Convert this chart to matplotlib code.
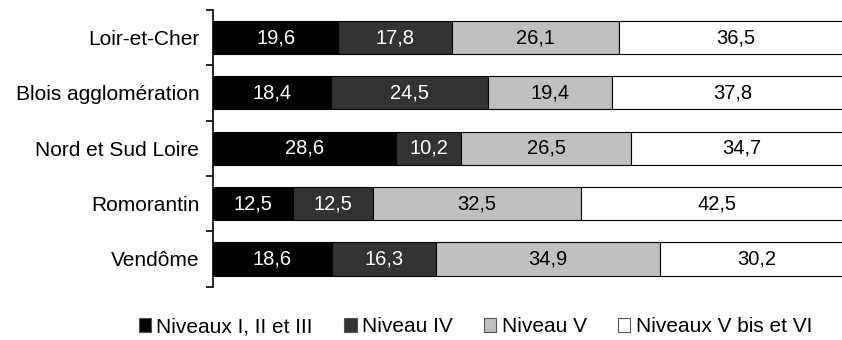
import matplotlib.pyplot as plt
import numpy as np

plt.rcParams['font.family'] = ['Liberation Sans', 'DejaVu Sans']

zones = ['Loir-et-Cher', 'Blois agglomération', 'Nord et Sud Loire', 'Romorantin', 'Vendôme']
niv_1_3 = [19.6, 18.4, 28.6, 12.5, 18.6]
niv_4 = [17.8, 24.5, 10.2, 12.5, 16.3]
niv_5 = [26.1, 19.4, 26.5, 32.5, 34.9]
niv_5bis_6 = [36.5, 37.8, 34.7, 42.5, 30.2]

series = [niv_1_3, niv_4, niv_5, niv_5bis_6]
labels = ['Niveaux I, II et III', 'Niveau IV', 'Niveau V', 'Niveaux V bis et VI']
colors = ['#000000', '#333333', '#c0c0c0', '#ffffff']
txt_colors = ['white', 'white', 'black', 'black']

fig = plt.figure(figsize=(8.42, 3.40), dpi=100)
ax = fig.add_axes([0.253, 0.157, 0.76, 0.814])

y = np.arange(len(zones))
left = np.zeros(len(zones))
for vals, lab, col, tc in zip(series, labels, colors, txt_colors):
    vals = np.array(vals)
    ax.barh(y, vals, left=left, height=0.6, color=col, edgecolor='black',
            linewidth=0.8, label=lab)
    for yi, l, v in zip(y, left, vals):
        ax.text(l + v / 2, yi, f'{v:.1f}'.replace('.', ','), ha='center', va='center',
                color=tc, fontsize=14.5)
    left += vals

ax.set_xlim(0, 100)
ax.set_ylim(len(zones) - 0.5, -0.5)
ax.set_yticks(y)
ax.set_yticklabels(zones, fontsize=15)
ax.set_yticks(np.arange(-0.5, len(zones)), minor=True)
ax.tick_params(axis='y', which='major', length=0, pad=10)
ax.tick_params(axis='y', which='minor', length=5, width=1.2, direction='out')
ax.set_xticks([])
for s in ['top', 'right', 'bottom']:
    ax.spines[s].set_visible(False)
ax.spines['left'].set_linewidth(1.2)

leg = ax.legend(loc='center', bbox_to_anchor=(0.41, -0.145), ncol=4, frameon=False,
                fontsize=15, handlelength=0.6, handleheight=0.6, handletextpad=0.25,
                columnspacing=1.5)
for h in leg.legend_handles:
    h.set_edgecolor('#555555')

fig.savefig('out.png', dpi=100)
